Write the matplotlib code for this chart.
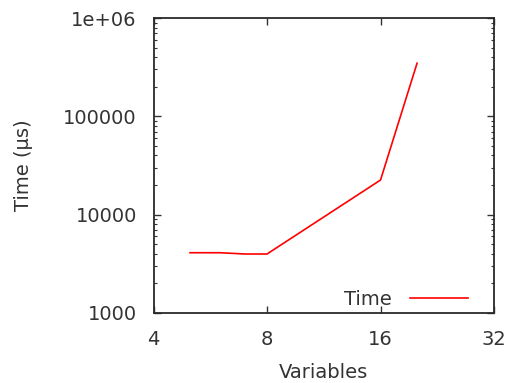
import matplotlib
matplotlib.use("Agg")
import matplotlib.pyplot as plt
from matplotlib.ticker import FixedLocator, FixedFormatter, LogLocator, NullLocator, NullFormatter

variables = [5, 6, 7, 8, 16, 20]
time_us = [4100, 4100, 3980, 3980, 22500, 347000]
x_ticks = [4, 8, 16, 32]
x_labels = ["4", "8", "16", "32"]
y_ticks = [1000, 10000, 100000, 1000000]
y_labels = ["1000", "10000", "100000", "1e+06"]

txt = "#333333"
fs = 14
plt.rcParams['font.family'] = ['DejaVu Sans']
fig = plt.figure(figsize=(5.07, 3.83), dpi=100)
ax = fig.add_axes([0.3028, 0.1828, 0.9744 - 0.3028, 0.953 - 0.1828])

ax.plot(variables, time_us, color="#ff0000", lw=1.2, label="Time")
ax.set_xscale("log", base=2)
ax.set_yscale("log")
ax.set_xlim(4, 32)
ax.set_ylim(1000, 1e6)

ax.xaxis.set_major_locator(FixedLocator(x_ticks))
ax.xaxis.set_major_formatter(FixedFormatter(x_labels))
ax.xaxis.set_minor_locator(NullLocator())
ax.yaxis.set_major_locator(FixedLocator(y_ticks))
ax.yaxis.set_major_formatter(FixedFormatter(y_labels))
ax.yaxis.set_minor_locator(LogLocator(base=10, subs=range(2, 10)))
ax.yaxis.set_minor_formatter(NullFormatter())

ax.tick_params(which="both", direction="in", top=True, right=True,
               colors="#333333", labelcolor=txt, labelsize=fs)
ax.tick_params(which="major", length=5, width=1.0, pad=12)
ax.tick_params(which="minor", length=2.5, width=0.8)
for s in ax.spines.values():
    s.set_color("#2a2a2a")
    s.set_linewidth(1.3)

ax.set_xlabel("Variables", fontsize=fs, color=txt, labelpad=10.5)
ax.set_ylabel("Time (µs)", fontsize=fs, color=txt, labelpad=22)

leg = ax.legend(loc="lower right", frameon=False, fontsize=fs, markerfirst=False,
                handlelength=3.0, borderaxespad=0.0, handletextpad=0.9,
                bbox_to_anchor=(0.9466, -0.012))
for t in leg.get_texts():
    t.set_color(txt)

fig.savefig("out.png", dpi=100)
